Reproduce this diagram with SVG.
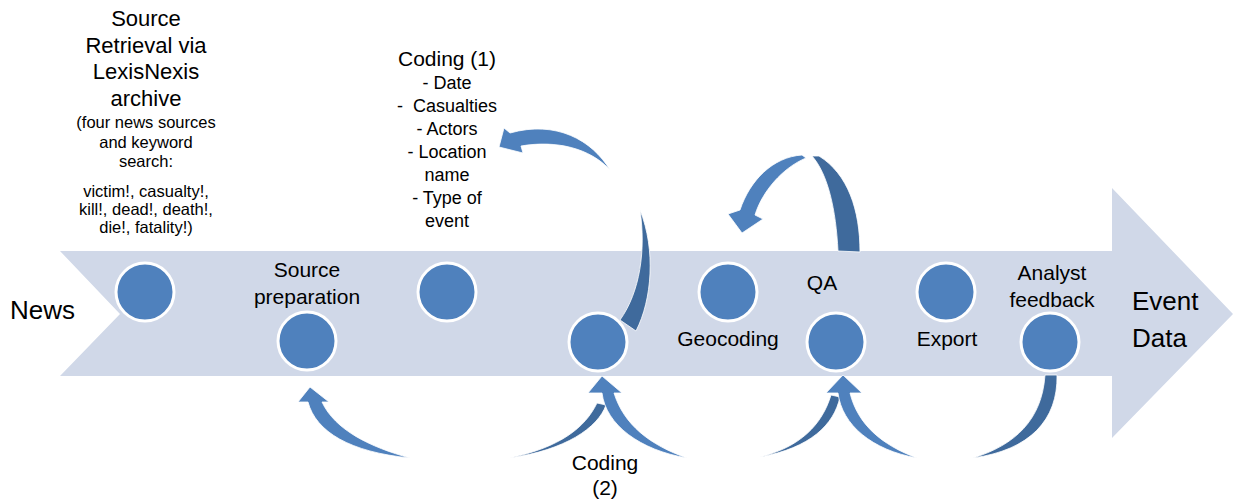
<svg xmlns="http://www.w3.org/2000/svg" width="1234" height="504" viewBox="0 0 1234 504">
<style>
text{font-family:"Liberation Sans",Arial,sans-serif;fill:#000;text-anchor:middle}
.big{font-size:26px}
.med{font-size:21px}
.sm{font-size:18px}
.xs{font-size:16.5px}
.node{fill:#4F81BD;stroke:#fff;stroke-width:3}
.lt{fill:#4F81BD;stroke:#fff;stroke-width:0.8}
.dk{fill:#3F6A9C;stroke:#fff;stroke-width:0.8}
</style>
<rect width="1234" height="504" fill="#fff"/>
<g id="band">
<path d="M60,251 L1112,251 L1112,188 L1233,314 L1112,438 L1112,376 L60,376 L120,314 Z" fill="#D0D8E8"/>
</g>
<g id="connectors">
<!-- Coding (1) loop -->
<path class="dk" d="M640,210 C656,250 652,300 636,331 L620,320 C640,292 646,250 640,210 Z"/>
<path class="lt" d="M610,170 C592,140 556,120 510,133 L504,128 L499,147 L523,153 L521,146 C556,140 590,148 610,170 Z"/>
<!-- QA loop top -->
<path class="dk" d="M812,156 C828,174 836,210 838,251 L860,252 C860,210 848,174 819,156 Z"/>
<path class="lt" d="M802,155 C773,157 750,180 740,210 L728,214 L742,233 L763,219 L755,215 C762,192 782,168 806,158 Z"/>
<!-- Source preparation arrow -->
<path class="lt" d="M308,402 C316,432 350,452 410,458 C370,447 335,430 322,402 L329,402 L310,387 L298,402 Z"/>
<!-- Coding (2) arrows -->
<path class="dk" d="M510,458 C565,450 598,428 606,405 L597,403 C585,428 560,447 510,458 Z"/>
<path class="lt" d="M602,393 C606,425 640,450 687,458 C650,445 624,425 614,393 L622,393 L602,376 L588,393 Z"/>
<!-- QA bottom arrows -->
<path class="dk" d="M760,457 C810,448 834,425 840,397 L831,395 C822,425 800,447 760,457 Z"/>
<path class="lt" d="M838,393 C842,425 872,450 917,458 C882,445 858,425 850,393 L862,393 L843,375 L826,393 Z"/>
<!-- Analyst feedback arrow -->
<path class="dk" d="M1045,375 L1057,375 C1058,420 1030,450 973,458 C1015,445 1042,420 1045,375 Z"/>
</g>
<g id="n1"><circle class="node" cx="145" cy="292" r="29"/></g>
<g id="n2"><circle class="node" cx="307" cy="341" r="29"/></g>
<g id="n3"><circle class="node" cx="447" cy="292" r="29"/></g>
<g id="n4"><circle class="node" cx="598" cy="342" r="29"/></g>
<g id="n5"><circle class="node" cx="728" cy="292" r="29"/></g>
<g id="n6"><circle class="node" cx="836" cy="342" r="29"/></g>
<g id="n7"><circle class="node" cx="946" cy="292" r="29"/></g>
<g id="n8"><circle class="node" cx="1050" cy="342" r="29"/></g>
<g id="labels">
<text class="big" x="10" y="319" style="text-anchor:start">News</text>
<text class="big" x="1132" y="310" style="text-anchor:start">Event</text>
<text class="big" x="1132" y="347" style="text-anchor:start">Data</text>
<text class="med" x="307" y="277">Source</text>
<text class="med" x="307" y="304">preparation</text>
<text class="med" x="728" y="346">Geocoding</text>
<text class="med" x="822" y="290">QA</text>
<text class="med" x="947" y="346">Export</text>
<text class="med" x="1052" y="280">Analyst</text>
<text class="med" x="1052" y="307">feedback</text>
<text class="med" x="605" y="470">Coding</text>
<text class="med" x="605" y="495">(2)</text>
<text class="med" x="447" y="66">Coding (1)</text>
<text class="sm" x="447" y="89">- Date</text>
<text class="sm" x="447" y="112" xml:space="preserve">-  Casualties</text>
<text class="sm" x="447" y="135">- Actors</text>
<text class="sm" x="447" y="158">- Location</text>
<text class="sm" x="447" y="181">name</text>
<text class="sm" x="447" y="204">- Type of</text>
<text class="sm" x="447" y="227">event</text>
<text class="med" x="146" y="26" style="font-size:22px">Source</text>
<text class="med" x="146" y="53" style="font-size:22px">Retrieval via</text>
<text class="med" x="146" y="79" style="font-size:22px">LexisNexis</text>
<text class="med" x="146" y="106" style="font-size:22px">archive</text>
<text class="xs" x="146" y="128">(four news sources</text>
<text class="xs" x="146" y="148">and keyword</text>
<text class="xs" x="146" y="167">search:</text>
<text class="xs" x="146" y="197">victim!, casualty!,</text>
<text class="xs" x="146" y="215">kill!, dead!, death!,</text>
<text class="xs" x="146" y="233">die!, fatality!)</text>
</g>
</svg>
